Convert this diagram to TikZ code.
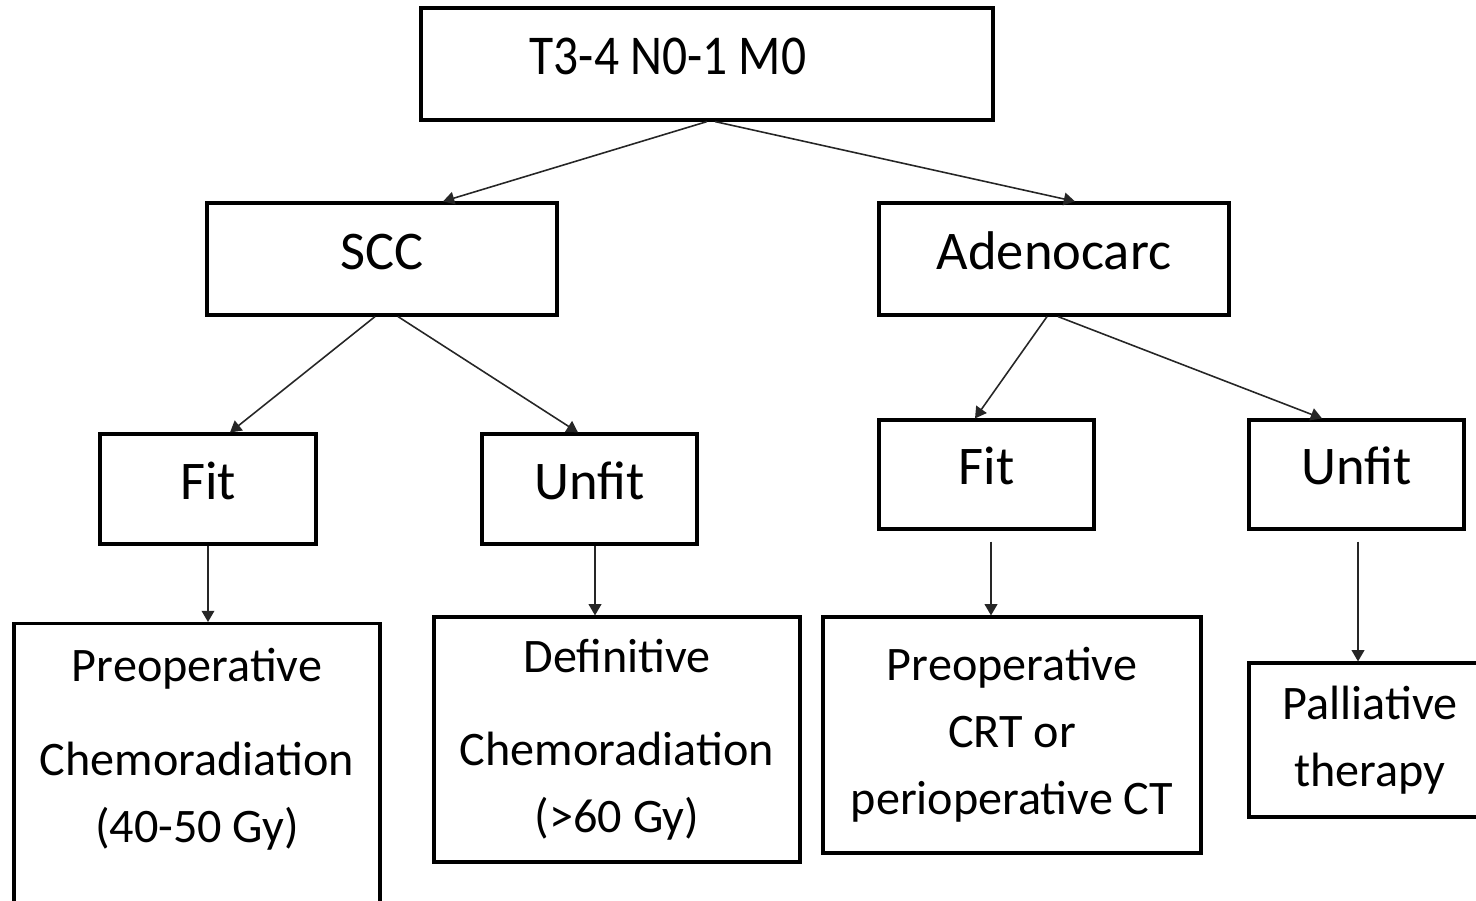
\documentclass[tikz,border=0pt]{standalone}
\usepackage{fontspec}
\setmainfont{Carlito}
\newfontfamily\stagefont[FakeStretch=0.88]{Carlito}
\usetikzlibrary{arrows.meta}

\begin{document}
\begin{tikzpicture}[
  box/.style={draw, line width=0.9pt, inner sep=0pt, align=center, text height=10pt, text depth=4.2pt,
    font=\fontsize{15.5}{18}\selectfont},
  leaf/.style={draw, line width=0.9pt, inner xsep=0pt, align=center, font=\fontsize{13.7}{19.1}\selectfont},
  arr/.style={draw=black!85, line width=0.45pt, -{Triangle[width=3.6pt,length=3.2pt]}}]
 \useasboundingbox (0,0) rectangle (14.76,-9);
 \clip (0,0) rectangle (14.76,-9);
 %NODES
 \node[box, minimum width=5.72cm, minimum height=1.12cm, font=\stagefont\fontsize{16}{18}\selectfont] (stage) at (7.07,-0.64) {T3-4 N0-1 M0\hspace*{0.78cm}};
 \node[box, minimum width=3.50cm, minimum height=1.12cm] (scc) at (3.82,-2.59) {SCC};
 \node[box, minimum width=3.50cm, minimum height=1.12cm] (adeno) at (10.54,-2.59) {Adenocarc};
 \node[box, minimum width=2.16cm, minimum height=1.10cm] (fitl) at (2.08,-4.89) {Fit};
 \node[box, minimum width=2.15cm, minimum height=1.10cm] (unfitl) at (5.895,-4.89) {Unfit};
 \node[box, minimum width=2.15cm, minimum height=1.09cm] (fitr) at (9.865,-4.745) {Fit};
 \node[box, minimum width=2.15cm, minimum height=1.09cm] (unfitr) at (13.565,-4.745) {Unfit};
 \node[leaf, minimum width=3.66cm, inner ysep=0.25cm, anchor=north] (prel) at (1.97,-6.22)
   {Preoperative\\[7.4pt]Chemoradiation\\(40-50 Gy)\\[7.7pt]\mbox{}};
 \node[leaf, minimum width=3.66cm, minimum height=2.45cm] (def) at (6.17,-7.395)
   {Definitive\\[7.4pt]Chemoradiation\\(>60 Gy)};
 \node[leaf, minimum width=3.78cm, minimum height=2.36cm] (prer) at (10.12,-7.35)
   {Preoperative\\CRT or\\perioperative CT};
 \node[leaf, minimum width=2.42cm, minimum height=1.54cm] (pall) at (13.70,-7.40)
   {Palliative\\therapy};
 %EDGES
 \draw[arr] (stage.south) -- ([xshift=0.61cm]scc.north);
 \draw[arr] ([xshift=0.08cm]stage.south) -- ([xshift=0.21cm]adeno.north);
 \draw[arr] ([xshift=-0.07cm]scc.south) -- ([xshift=0.22cm]fitl.north);
 \draw[arr] ([xshift=0.16cm]scc.south) -- ([xshift=-0.115cm]unfitl.north);
 \draw[arr] ([xshift=-0.07cm]adeno.south) -- ([xshift=-0.115cm]fitr.north);
 \draw[arr] ([xshift=0.04cm]adeno.south) -- ([xshift=-0.345cm]unfitr.north);
 \draw[arr] (fitl.south) -- (fitl.south |- prel.north);
 \draw[arr] ([xshift=0.055cm]unfitl.south) -- ([xshift=0.055cm]unfitl.south |- def.north);
 \draw[arr, shorten <=0.11cm] ([xshift=0.045cm]fitr.south) -- ([xshift=0.045cm]fitr.south |- prer.north);
 \draw[arr, shorten <=0.11cm] ([xshift=0.015cm]unfitr.south) -- ([xshift=0.015cm]unfitr.south |- pall.north);
\end{tikzpicture}
\end{document}
